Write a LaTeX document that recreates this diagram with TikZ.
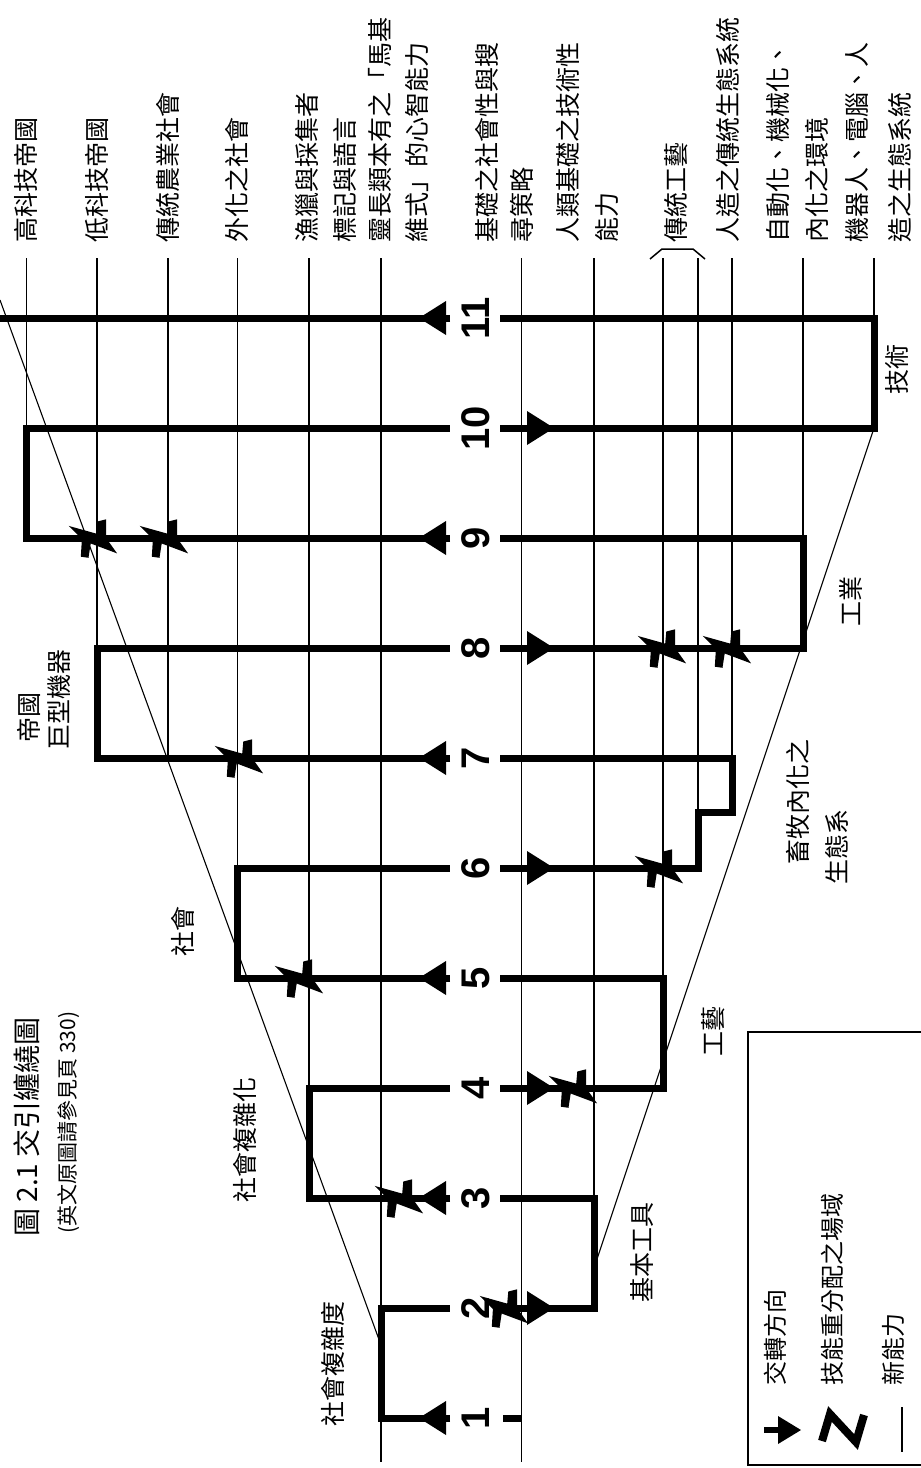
\documentclass[tikz,border=0pt]{standalone}
\usepackage{fontspec}
\setmainfont{Liberation Sans}
\newfontfamily\cjk{Noto Sans CJK TC}
\newcommand\ZigMark[2]{%
  \fill[shift={(#1,#2)}, scale=1.1] (-23,-11) -- (2,-4) -- (3,-15) -- (11,-17) -- (11,0)
     -- (21,14) -- (-3,5) -- (-5,18) -- (-12,17) -- (-11,1) -- cycle;}
\begin{document}
\begin{tikzpicture}[x=0.5pt,y=-0.5pt,
  capline/.style={line width=0.75pt},
  thickpath/.style={line width=3.5pt, line join=miter},
  diag/.style={line width=0.55pt},
  lbl/.style={rotate=90, anchor=west, inner sep=0pt, font=\cjk\fontsize{12.5}{15}\selectfont},
  num/.style={rotate=90, inner sep=0pt, font=\bfseries\fontsize{20}{24}\selectfont},
]
\useasboundingbox (0,0) rectangle (921,1468);
\fill[white] (0,0) rectangle (921,1468);

% capability lines
\foreach \x/\yb in {26.5/428, 97/648, 168/758, 237.5/868, 309/1088, 381/1462,
                    521.5/1462, 594/1198, 663/978, 698/812, 732/758, 803/538, 874/318}
  \draw[capline] (\x,258) -- (\x,\yb);

% bracket for traditional craft
\draw[capline] (650,259) -- (662,249) -- (693,249) -- (705,259);

% envelope diagonals
\draw[diag] (0,300) -- (381,1345);
\draw[diag] (874,428) -- (596,1262);

% thick meander, left pieces
\draw[thickpath] (450,1418) -- (381,1418) -- (381,1308) -- (450,1308);
\draw[thickpath] (450,1198) -- (309,1198) -- (309,1088) -- (450,1088);
\draw[thickpath] (450,978) -- (237.5,978) -- (237.5,868) -- (450,868);
\draw[thickpath] (450,758) -- (97,758) -- (97,648) -- (450,648);
\draw[thickpath] (450,538) -- (26.5,538) -- (26.5,428) -- (450,428);
\draw[thickpath] (450,318) -- (-5,318);
% right pieces
\draw[thickpath] (503,1418) -- (522,1418);
\draw[thickpath] (500,1308) -- (594,1308) -- (594,1198) -- (500,1198);
\draw[thickpath] (500,1088) -- (663,1088) -- (663,978) -- (500,978);
\draw[thickpath] (500,868) -- (698,868) -- (698,812) -- (732,812) -- (732,758) -- (500,758);
\draw[thickpath] (500,648) -- (803,648) -- (803,538) -- (500,538);
\draw[thickpath] (500,428) -- (874,428) -- (874,318) -- (500,318);

% direction arrows
\foreach \r in {1418,1198,978,758,538,318}
  \fill (419,\r) -- (446,\r-17) -- (446,\r+17) -- cycle;
\foreach \r in {1308,1088,868,648,428}
  \fill (554,\r) -- (527,\r-17) -- (527,\r+17) -- cycle;

% skill redistribution marks
\ZigMark{505}{1308}
\ZigMark{400}{1198}
\ZigMark{574}{1088}
\ZigMark{300}{978}
\ZigMark{660}{868}
\ZigMark{240}{758}
\ZigMark{663}{648}
\ZigMark{728}{648}
\ZigMark{94}{538}
\ZigMark{165}{538}

% numbers
\node[num] (n1) at (476,1418) {1};
\node[num] (n2) at (476,1308) {2};
\node[num] (n3) at (476,1198) {3};
\node[num] (n4) at (476,1088) {4};
\node[num] (n5) at (476,978) {5};
\node[num] (n6) at (476,868) {6};
\node[num] (n7) at (476,758) {7};
\node[num] (n8) at (476,648) {8};
\node[num] (n9) at (476,538) {9};
\node[num] (n10) at (476,428) {10};
\node[num] (n11) at (476,318) {11};

% top labels
\node[lbl] (t1) at (26,243) {高科技帝國};
\node[lbl] (t2) at (97,243) {低科技帝國};
\node[lbl] (t3) at (168,243) {傳統農業社會};
\node[lbl] (t4) at (237,243) {外化之社會};
\node[lbl] (t5) at (307,243) {漁獵與採集者};
\node[lbl] (t6) at (345,243) {標記與語言};
\node[lbl] (t7a) at (380,243) {靈長類本有之「馬基};
\node[lbl] (t7b) at (417,243) {維式」的心智能力};
\node[lbl] (t8a) at (487,243) {基礎之社會性與搜};
\node[lbl] (t8b) at (522,243) {尋策略};
\node[lbl] (t9a) at (568,243) {人類基礎之技術性};
\node[lbl] (t9b) at (607,243) {能力};
\node[lbl] (t10) at (676,243) {傳統工藝};
\node[lbl] (t11) at (728,243) {人造之傳統生態系統};
\node[lbl] (t12a) at (778,243) {自動化、機械化、};
\node[lbl] (t12b) at (817,243) {內化之環境};
\node[lbl] (t13a) at (857,243) {機器人、電腦、人};
\node[lbl] (t13b) at (900,243) {造之生態系統};

% inner labels
\node[lbl] (e1) at (29,743) {帝國};
\node[lbl] (e2) at (59,750) {巨型機器};
\node[lbl] (s1) at (183,957) {社會};
\node[lbl] (s2) at (245,1203) {社會複雜化};
\node[lbl] (s3) at (333,1427) {社會複雜度};
\node[lbl] (k1) at (642,1303) {基本工具};
\node[lbl] (k2) at (713,1057) {工藝};
\node[lbl] (k3a) at (798,865) {畜牧內化之};
\node[lbl] (k3b) at (837,885) {生態系};
\node[lbl] (k4) at (851,627) {工業};
\node[lbl] (k5) at (897,395) {技術};

% title
\node[rotate=90, anchor=west, inner sep=0pt, font=\cjk\fontsize{14}{16}\selectfont] (title) at (27,1237) {圖 2.1 交引纏繞圖};
\node[rotate=90, anchor=west, inner sep=0pt, font=\cjk\fontsize{10.5}{12}\selectfont] (subtitle) at (69,1234) {(英文原圖請參見頁 330)};

% legend
\draw[line width=0.75pt] (925,1032) -- (748,1032) -- (748,1465) -- (925,1465);
\draw[line width=3pt] (764,1430) -- (782,1430);
\fill (801,1430) -- (778,1416) -- (778,1444) -- cycle;
\draw[line width=4pt, line join=miter] (822,1441) -- (830,1414) -- (856,1442) -- (864,1415);
\draw[capline] (902,1407) -- (902,1452);
\node[lbl, font=\cjk\fontsize{12}{14}\selectfont] (g1) at (775,1386) {交轉方向};
\node[lbl, font=\cjk\fontsize{12}{14}\selectfont] (g2) at (832,1386) {技能重分配之場域};
\node[lbl, font=\cjk\fontsize{12}{14}\selectfont] (g3) at (893,1386) {新能力};
\end{tikzpicture}
\end{document}
